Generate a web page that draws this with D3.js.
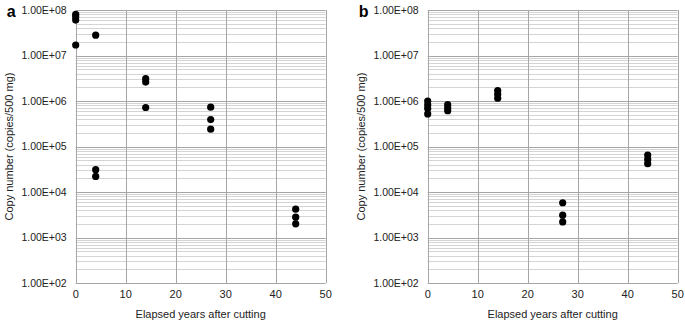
<!DOCTYPE html>
<html>
<head>
<meta charset="utf-8">
<script src="https://cdn.jsdelivr.net/npm/d3@7"></script>
<style>
  body { margin: 0; background: #fff; }
  text { font-family: "Liberation Sans", Arial, sans-serif; fill: #222; }
</style>
</head>
<body>
<svg id="chart" width="685" height="322"></svg>
<script>
// panel a
const yearsA  = [0, 0, 0, 0, 4, 4, 4, 14, 14, 14, 27, 27, 27, 44, 44, 44];
const copiesA = [8.0e7, 7.0e7, 6.0e7, 1.7e7, 2.8e7, 3.1e4, 2.2e4, 3.1e6, 2.6e6, 7.2e5, 7.3e5, 3.9e5, 2.4e5, 4.2e3, 2.8e3, 2.0e3];
// panel b
const yearsB  = [0, 0, 0, 0, 4, 4, 4, 14, 14, 14, 27, 27, 27, 44, 44, 44];
const copiesB = [1.0e6, 8.2e5, 6.8e5, 5.2e5, 8.3e5, 7.0e5, 6.1e5, 1.7e6, 1.4e6, 1.15e6, 5.8e3, 3.1e3, 2.2e3, 6.5e4, 5.2e4, 4.2e4];

const xTicks = [0, 10, 20, 30, 40, 50];
const yTicks = [1e2, 1e3, 1e4, 1e5, 1e6, 1e7, 1e8];
const xTitle = "Elapsed years after cutting";
const yTitle = "Copy number (copies/500 mg)";

const svg = d3.select("#chart");

function fmt(d) {
    return "1.00E+" + String(Math.round(Math.log10(d))).padStart(2, "0");
}

function panel(letter, left, years, copies) {
    const top = 10, bottom = 283, width = 250;
    const x = d3.scaleLinear().domain([0, 50]).range([left, left + width]);
    const y = d3.scaleLog().domain([1e2, 1e8]).range([bottom, top]);
    const g = svg.append("g");

    // minor log gridlines
    let minor = [];
    for (let e = 2; e < 8; e++) {
        for (let m = 2; m <= 9; m++) minor.push(m * Math.pow(10, e));
    }
    g.selectAll(".minor").data(minor).join("line")
        .attr("x1", x(0)).attr("x2", x(50))
        .attr("y1", d => Math.round(y(d)) + 0.5).attr("y2", d => Math.round(y(d)) + 0.5)
        .attr("stroke", "#d4d4d4").attr("stroke-width", 1);

    // major gridlines
    g.selectAll(".hmaj").data(yTicks).join("line")
        .attr("x1", x(0)).attr("x2", x(50))
        .attr("y1", d => Math.round(y(d)) + 0.5).attr("y2", d => Math.round(y(d)) + 0.5)
        .attr("stroke", "#a6a6a6").attr("stroke-width", 1);
    g.selectAll(".vmaj").data(xTicks).join("line")
        .attr("x1", d => Math.round(x(d)) + 0.5).attr("x2", d => Math.round(x(d)) + 0.5)
        .attr("y1", y(1e8)).attr("y2", y(1e2))
        .attr("stroke", "#a6a6a6").attr("stroke-width", 1);

    // tick labels
    g.selectAll(".ylab").data(yTicks).join("text")
        .attr("x", x(0) - 9).attr("y", d => y(d))
        .attr("dy", "0.35em")
        .attr("text-anchor", "end")
        .attr("font-size", "10.5px")
        .text(fmt);
    g.selectAll(".xlab").data(xTicks).join("text")
        .attr("x", d => x(d)).attr("y", bottom + 15)
        .attr("text-anchor", "middle")
        .attr("font-size", "11px")
        .text(d => d);

    // titles
    g.append("text")
        .attr("x", (x(0) + x(50)) / 2).attr("y", 318)
        .attr("text-anchor", "middle")
        .attr("font-size", "11px")
        .text(xTitle);
    g.append("text")
        .attr("transform", `translate(${left - 63},${(top + bottom) / 2}) rotate(-90)`)
        .attr("text-anchor", "middle")
        .attr("font-size", "11px")
        .text(yTitle);
    g.append("text")
        .attr("x", left - 69).attr("y", 17)
        .attr("font-size", "16px")
        .attr("font-weight", "bold")
        .style("fill", "#000")
        .text(letter);

    // points
    g.selectAll("circle").data(years.map((d, i) => [d, copies[i]])).join("circle")
        .attr("cx", d => x(d[0]))
        .attr("cy", d => y(d[1]))
        .attr("r", 3.6)
        .attr("fill", "#000");
}

panel("a", 75.7, yearsA, copiesA);
panel("b", 427.7, yearsB, copiesB);
</script>
</body>
</html>
